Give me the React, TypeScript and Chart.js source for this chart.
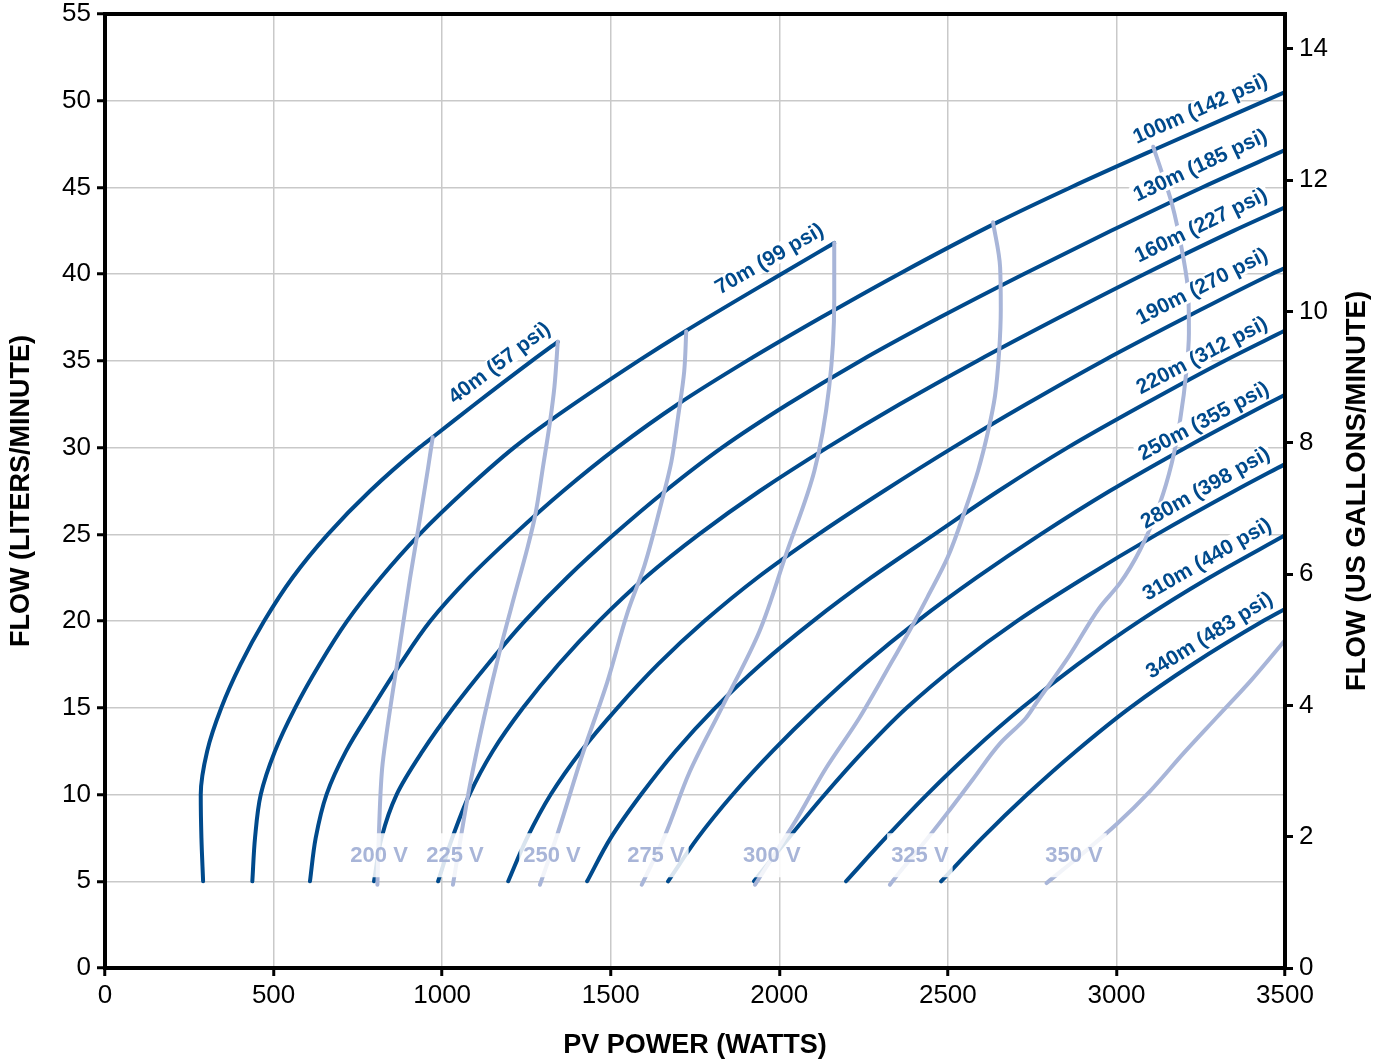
import React, { useEffect, useRef } from 'react';
import { Chart, registerables } from 'chart.js';

Chart.register(...registerables);

type Pt = [number, number];

// ---- head curves: [PV power (W), flow (L/min)] ----
const head40m: Pt[] = [[291,5],[286,7.5],[284,10],[303,12.5],[345,15],[402,17.5],[472,20],[556,22.5],[661,25],[786,27.5],[932,30],[972,30.6],[1097,32.5],[1266,35],[1343,36.1]];
const head70m: Pt[] = [[437,5],[445,7.5],[462,10],[504,12.5],[564,15],[636,17.5],[718,20],[818,22.5],[933,25],[1066,27.5],[1213,30],[1316,31.5],[1582,35],[1720,36.7],[2005,40],[2163,41.8]];
const head100m: Pt[] = [[608,5],[625,7.5],[657,10],[715,12.5],[793,15],[875,17.5],[965,20],[1080,22.5],[1214,25],[1359,27.5],[1519,30],[1699,32.5],[1904,35],[2124,37.5],[2354,40],[2648,43],[2864,45],[3115,47.2],[3500,50.5]];
const head130m: Pt[] = [[798,5],[820,7.5],[865,10],[942,12.5],[1033,15],[1135,17.5],[1245,20],[1370,22.5],[1510,25],[1662,27.5],[1830,30],[2025,32.5],[2240,35],[2475,37.5],[2724,40],[2984,42.5],[3254,45],[3500,47.15]];
const head160m: Pt[] = [[988,5],[1030,7.5],[1081,10],[1150,12.5],[1240,15],[1345,17.5],[1465,20],[1602,22.5],[1762,25],[1942,27.5],[2142,30],[2357,32.5],[2587,35],[2830,37.5],[3082,40],[3347,42.5],[3500,43.85]];
const head190m: Pt[] = [[1196,5],[1252,7.5],[1322,10],[1412,12.5],[1520,15],[1640,17.5],[1778,20],[1935,22.5],[2115,25],[2310,27.5],[2515,30],[2732,32.5],[2960,35],[3205,37.5],[3460,40],[3500,40.35]];
const head220m: Pt[] = [[1430,5],[1500,7.5],[1590,10],[1692,12.5],[1810,15],[1945,17.5],[2100,20],[2272,22.5],[2460,25],[2650,27.5],[2855,30],[3082,32.5],[3320,35],[3500,36.75]];
const head250m: Pt[] = [[1670,5],[1758,7.5],[1862,10],[1980,12.5],[2110,15],[2252,17.5],[2410,20],[2585,22.5],[2775,25],[2980,27.5],[3205,30],[3445,32.5],[3500,33.05]];
const head280m: Pt[] = [[1925,5],[2028,7.5],[2135,10],[2250,12.5],[2378,15],[2530,17.5],[2705,20],[2905,22.5],[3120,25],[3350,27.5],[3500,29.05]];
const head310m: Pt[] = [[2198,5],[2315,7.5],[2438,10],[2572,12.5],[2720,15],[2885,17.5],[3068,20],[3275,22.5],[3500,24.95]];
const head340m: Pt[] = [[2480,5],[2602,7.5],[2735,10],[2880,12.5],[3040,15],[3225,17.5],[3435,20],[3500,20.7]];

// ---- voltage curves ----
const volt200: Pt[] = [[808,4.8],[812,7.5],[822,11.5],[835,13.5],[870,18],[905,22.5],[935,26],[958,28.8],[972,30.6]];
const volt225: Pt[] = [[1032,4.8],[1056,7.6],[1081,10.4],[1125,14.5],[1170,18.2],[1215,21.5],[1250,24],[1275,26],[1300,29],[1320,31.5],[1333,33.5],[1343,36.1]];
const volt250: Pt[] = [[1290,4.8],[1340,7.6],[1416,12.3],[1490,16.5],[1550,20.5],[1600,23.2],[1650,26.8],[1680,29.2],[1700,31.8],[1718,34.4],[1724,36.7]];
const volt275: Pt[] = [[1592,4.8],[1660,7.6],[1734,11.3],[1832,15.1],[1941,19.4],[2020,23.85],[2104,28.65],[2148,33.5],[2163,38.5],[2163,41.8]];
const volt300: Pt[] = [[1928,4.8],[2010,7.3],[2049,8.5],[2138,11.5],[2237,14.4],[2335,17.7],[2385,19.4],[2440,21.4],[2500,23.7],[2553,26.5],[2590,28.7],[2620,31.0],[2640,33.0],[2652,35.5],[2657,38],[2655,40.4],[2634,43.0]];
const volt325: Pt[] = [[2328,4.8],[2358,5.55],[2420,7.0],[2497,8.9],[2575,10.9],[2655,12.95],[2731,14.4],[2763,15.3],[2860,18.0],[2951,20.8],[3011,22.2],[3070,24.1],[3129,26.8],[3164,29.1],[3189,31.6],[3208,34.5],[3215,36.6],[3213,38.9],[3198,41.0],[3164,44.1],[3129,46.2],[3109,47.35]];
const volt350: Pt[] = [[2793,4.9],[2900,6.6],[3001,8.3],[3100,10.2],[3200,12.4],[3300,14.5],[3400,16.6],[3500,18.9]];

const headNames = ['40m (57 psi)','70m (99 psi)','100m (142 psi)','130m (185 psi)','160m (227 psi)','190m (270 psi)','220m (312 psi)','250m (355 psi)','280m (398 psi)','310m (440 psi)','340m (483 psi)'];
const headSeries = [head40m, head70m, head100m, head130m, head160m, head190m, head220m, head250m, head280m, head310m, head340m];
const voltNames = ['200 V','225 V','250 V','275 V','300 V','325 V','350 V'];
const voltSeries = [volt200, volt225, volt250, volt275, volt300, volt325, volt350];

// axis ranges / ticks
const xMin = 0, xMax = 3500, xStep = 500;
const yMin = 0, yMax = 55, yStep = 5;
const LPM_PER_GPM = 3.78541;
const gpmStep = 2;

// label anchors (data units) and rotations
const headLabelPos: { x: number; y: number; a: number }[] = [
  { x: 1169, y: 34.9, a: -37 },
  { x: 1970, y: 40.9, a: -30 },
  { x: 3248, y: 49.56, a: -24 },
  { x: 3248, y: 46.3, a: -25 },
  { x: 3250, y: 42.84, a: -26 },
  { x: 3253, y: 39.32, a: -27 },
  { x: 3253, y: 35.34, a: -27.5 },
  { x: 3258, y: 31.55, a: -28 },
  { x: 3263, y: 27.71, a: -29.5 },
  { x: 3268, y: 23.58, a: -30 },
  { x: 3275, y: 19.2, a: -32 },
];
const voltLabelX = [813, 1038, 1326, 1634, 1978, 2417, 2874];
const voltLabelY = 6.5;

const DARK = '#004a8c';
const LIGHT = '#a8b5d8';
const GRID = '#c9c9c9';
const FONT = "'Liberation Sans', Arial, Helvetica, sans-serif";

function drawBoxedText(ctx: CanvasRenderingContext2D, text: string, cx: number, cy: number, angle: number,
  font: string, color: string, bg: string, padX: number, boxH: number) {
  ctx.save();
  ctx.translate(cx, cy);
  ctx.rotate((angle * Math.PI) / 180);
  ctx.font = font;
  const w = ctx.measureText(text).width;
  ctx.fillStyle = bg;
  ctx.fillRect(-w / 2 - padX, -boxH / 2, w + 2 * padX, boxH);
  ctx.fillStyle = color;
  ctx.textAlign = 'center';
  ctx.textBaseline = 'middle';
  ctx.fillText(text, 0, 1);
  ctx.restore();
}

const overlayPlugin = {
  id: 'overlay',
  afterDatasetsDraw(chart: any) {
    const { ctx, scales } = chart;
    const xs = scales.x, ys = scales.y;
    headNames.forEach((t, i) => {
      const p = headLabelPos[i];
      drawBoxedText(ctx, t, xs.getPixelForValue(p.x), ys.getPixelForValue(p.y), p.a,
        `bold 21px ${FONT}`, DARK, '#ffffff', 2, 19);
    });
    voltNames.forEach((t, i) => {
      drawBoxedText(ctx, t, xs.getPixelForValue(voltLabelX[i]), ys.getPixelForValue(voltLabelY), 0,
        `bold 22px ${FONT}`, LIGHT, 'rgba(255,255,255,0.85)', 4, 44);
    });
  },
  afterDraw(chart: any) {
    const { ctx, chartArea } = chart;
    const { left, right, top, bottom } = chartArea;
    ctx.save();
    ctx.strokeStyle = '#000';
    ctx.lineWidth = 4;
    ctx.strokeRect(left, top, right - left, bottom - top);
    ctx.fillStyle = '#000';
    ctx.textAlign = 'center';
    ctx.textBaseline = 'middle';
    ctx.font = `bold 27px ${FONT}`;
    ctx.fillText('PV POWER (WATTS)', (left + right) / 2, 1046);
    ctx.save();
    ctx.translate(22, (top + bottom) / 2);
    ctx.rotate(-Math.PI / 2);
    ctx.fillText('FLOW (LITERS/MINUTE)', 0, 0);
    ctx.restore();
    ctx.save();
    ctx.font = `bold 27.5px ${FONT}`;
    ctx.translate(1357, (top + bottom) / 2);
    ctx.rotate(-Math.PI / 2);
    ctx.fillText('FLOW (US GALLONS/MINUTE)', 0, 0);
    ctx.restore();
    ctx.restore();
  },
};

export default function App() {
  const ref = useRef<HTMLCanvasElement | null>(null);
  useEffect(() => {
    if (!ref.current) return;
    const datasets: any[] = [];
    const common = {
      borderWidth: 4,
      borderCapStyle: 'round',
      pointRadius: 0,
      pointHoverRadius: 0,
      fill: false,
      cubicInterpolationMode: 'monotone',
      xAxisID: 'x',
      yAxisID: 'y',
    };
    headSeries.forEach((s, i) => {
      datasets.push({ ...common, label: headNames[i], data: s.map(([x, y]) => ({ x, y })), borderColor: DARK, order: 2 });
    });
    voltSeries.forEach((s, i) => {
      datasets.push({ ...common, label: voltNames[i], data: s.map(([x, y]) => ({ x, y })), borderColor: LIGHT, order: 1 });
    });
    const tickFont = { family: FONT, size: 26 };
    const fmt = (v: any) => String(v);
    const fitV = (w: number) => (s: any) => { s.width = w; s.paddingTop = 0; s.paddingBottom = 0; };
    const chart = new Chart(ref.current, {
      type: 'line',
      data: { datasets },
      options: {
        indexAxis: 'y',
        animation: false,
        responsive: false,
        devicePixelRatio: 1,
        layout: { autoPadding: false, padding: { top: 14, left: 0, right: 0, bottom: 0 } },
        plugins: { legend: { display: false }, tooltip: { enabled: false } },
        scales: {
          x: {
            type: 'linear', position: 'bottom', min: xMin, max: xMax,
            ticks: { stepSize: xStep, color: '#000', font: tickFont, padding: 4, includeBounds: false, maxRotation: 0, callback: fmt },
            grid: { color: GRID, lineWidth: 1.5, tickColor: '#000', tickWidth: 3, tickLength: 8 },
            border: { display: false },
            afterFit: (s: any) => { s.height = 95; s.paddingLeft = 0; s.paddingRight = 0; },
          },
          y: {
            type: 'linear', position: 'left', min: yMin, max: yMax,
            ticks: { stepSize: yStep, color: '#000', font: tickFont, padding: 6, includeBounds: false, callback: fmt },
            grid: { color: GRID, lineWidth: 1.5, tickColor: '#000', tickWidth: 3, tickLength: 8 },
            border: { display: false },
            afterFit: fitV(105),
          },
          y2: {
            type: 'linear', position: 'right', min: yMin / LPM_PER_GPM, max: yMax / LPM_PER_GPM,
            ticks: { stepSize: gpmStep, color: '#000', font: tickFont, padding: 6, includeBounds: false, callback: fmt },
            grid: { drawOnChartArea: false, tickColor: '#000', tickWidth: 3, tickLength: 8 },
            border: { display: false },
            afterFit: fitV(103),
          },
        },
      } as any,
      plugins: [overlayPlugin],
    });
    return () => chart.destroy();
  }, []);
  return (
    <div style={{ position: 'absolute', left: 0, top: 0, width: 1388, height: 1063, background: '#fff' }}>
      <canvas ref={ref} width={1388} height={1063} style={{ display: 'block' }} />
    </div>
  );
}
